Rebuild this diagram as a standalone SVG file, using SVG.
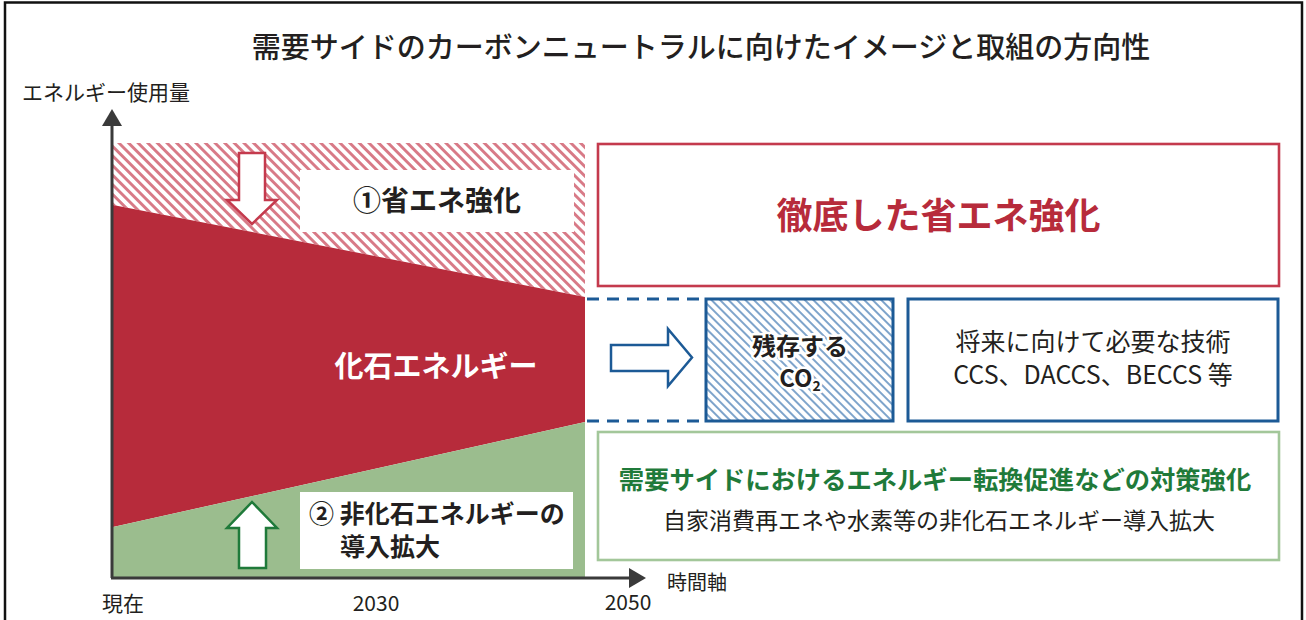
<svg xmlns="http://www.w3.org/2000/svg" width="1306" height="620" viewBox="0 0 1306 620">
<style>
text{font-family:"Noto Sans CJK JP","Noto Sans",sans-serif;fill:#231f20}
.b{font-weight:700}
.m{font-weight:500}
.mid{text-anchor:middle}
.halo{stroke:#fff;stroke-width:5;stroke-linejoin:round;paint-order:stroke}
.ax{stroke:#3a3a3a;stroke-width:3;fill:none}
.axh{fill:#3a3a3a}
</style>
<defs>
<pattern id="hatchRed" patternUnits="userSpaceOnUse" width="6.8" height="6.8" patternTransform="rotate(-45)">
<rect width="6.8" height="6.8" fill="#fff"/>
<line x1="3.4" y1="-1" x2="3.4" y2="8" stroke="#d87a87" stroke-width="2.9"/>
</pattern>
<pattern id="hatchBlue" patternUnits="userSpaceOnUse" width="6" height="6" patternTransform="rotate(-45)">
<rect width="6" height="6" fill="#fff"/>
<line x1="3" y1="-1" x2="3" y2="7" stroke="#7ea4cb" stroke-width="2"/>
</pattern>
</defs>
<rect width="1306" height="620" fill="#fff"/>
<path d="M5,625 V2.5 H1302 V625" fill="none" stroke="#111" stroke-width="2.5"/>

<g id="title">
<text class="m mid" x="701" y="58" font-size="29">需要サイドのカーボンニュートラルに向けたイメージと取組の方向性</text>
</g>

<g id="chart">
<polygon points="113,143 585,143 585,297 113,205" fill="url(#hatchRed)"/>
<polygon points="113,205 585,297 585,422 113,527" fill="#b72b3b"/>
<polygon points="113,527 585,422 585,577 113,577" fill="#9bbd8e"/>
</g>

<g id="label-fossil">
<text class="b mid" x="436" y="377" font-size="29" style="fill:#fff">化石エネルギー</text>
</g>

<g id="label-saving">
<rect x="300" y="170" width="274" height="62" fill="#fff"/>
<text class="b mid" x="437" y="211" font-size="28">①省エネ強化</text>
</g>

<g id="label-nonfossil">
<rect x="300" y="492" width="273" height="77" fill="#fff"/>
<text class="b" x="309" y="523" font-size="25">② 非化石エネルギーの</text>
<text class="b" x="340" y="556" font-size="25">導入拡大</text>
</g>

<g id="axes">
<line class="ax" x1="112" y1="122" x2="112" y2="578"/>
<polygon class="axh" points="112,109 122,126 102,126"/>
<line class="ax" x1="111" y1="578" x2="632" y2="578"/>
<polygon class="axh" points="646,578 629,568 629,588"/>
<text x="22" y="100" font-size="21">エネルギー使用量</text>
<text x="667" y="590" font-size="20">時間軸</text>
<text x="102" y="611" font-size="21">現在</text>
<text class="mid" x="376" y="611" font-size="21">2030</text>
<text class="mid" x="628" y="610" font-size="21">2050</text>
</g>

<g id="box-thorough">
<rect x="598" y="144" width="681" height="142" fill="#fff" stroke="#c43a4d" stroke-width="2.6"/>
<text class="b mid" x="938.5" y="229" font-size="36" style="fill:#b72b3b">徹底した省エネ強化</text>
</g>

<g id="box-co2">
<rect x="706" y="299" width="187" height="122" fill="url(#hatchBlue)" stroke="#1c5a96" stroke-width="3"/>
<text class="b mid halo" x="800" y="355" font-size="24">残存する</text>
<text class="b mid halo" x="800" y="387" font-size="24">CO<tspan font-size="14" dy="4">2</tspan></text>
</g>

<g id="box-tech">
<rect x="908" y="299" width="370" height="122" fill="#fff" stroke="#1c5a96" stroke-width="3"/>
<text class="mid" x="1093" y="351" font-size="25">将来に向けて必要な技術</text>
<text class="mid" x="1093" y="384" font-size="25">CCS、DACCS、BECCS 等</text>
</g>

<g id="box-demand">
<rect x="598" y="432" width="681" height="128" fill="#fff" stroke="#a3c79a" stroke-width="2.6"/>
<text class="b mid" x="935" y="489" font-size="25.3" style="fill:#1f7a3a">需要サイドにおけるエネルギー転換促進などの対策強化</text>
<text class="mid" x="939" y="529" font-size="23">自家消費再エネや水素等の非化石エネルギー導入拡大</text>
</g>

<g id="connectors">
<line x1="587" y1="299" x2="706" y2="299" stroke="#1c5a96" stroke-width="3" stroke-dasharray="12 8"/>
<line x1="587" y1="421" x2="706" y2="421" stroke="#1c5a96" stroke-width="3" stroke-dasharray="12 8"/>
<polygon points="239,153 265,153 265,200 277,200 252,224 227,200 239,200" fill="#fff" stroke="#c43a4d" stroke-width="2.5" stroke-linejoin="miter"/>
<polygon points="252,502 277,528 266,528 266,568 239,568 239,528 227,528" fill="#fff" stroke="#1f7a3a" stroke-width="2.5"/>
<polygon points="611,345 668,345 668,329 692,357.5 668,386 668,371 611,371" fill="#fff" stroke="#1c5a96" stroke-width="2.5"/>
</g>
</svg>
